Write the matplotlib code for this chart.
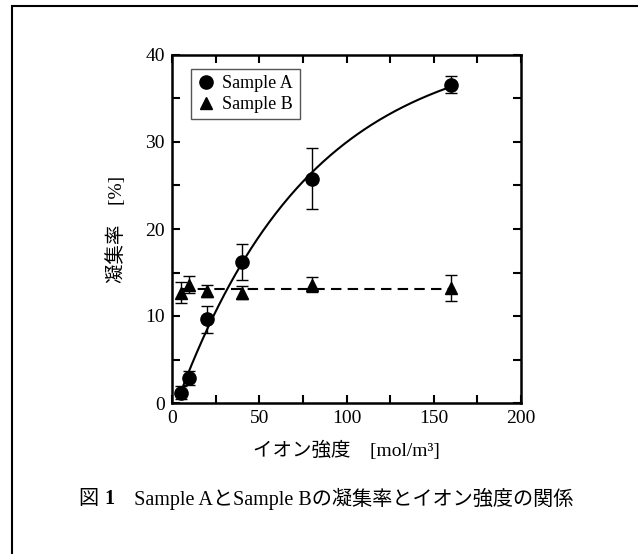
import numpy as np
import matplotlib
matplotlib.use('Agg')
import matplotlib.pyplot as plt
from matplotlib.lines import Line2D
from matplotlib.patches import Rectangle
from matplotlib.ticker import MultipleLocator

plt.rcParams['font.family'] = ['Liberation Serif', 'Noto Sans CJK JP']

# data
ion = np.array([5, 10, 20, 40, 80, 160])
rate_a = np.array([1.2, 2.9, 9.6, 16.2, 25.8, 36.6])
err_a = np.array([0.7, 0.8, 1.5, 2.1, 3.5, 1.0])
rate_b = np.array([12.7, 13.6, 12.9, 12.7, 13.6, 13.2])
err_b = np.array([1.2, 1.0, 0.7, 0.75, 0.85, 1.5])

# saturation fit y = a - c*exp(-k x) for Sample A (grid over k, linear lstsq for a, c)
best = None
for k in np.linspace(0.001, 0.05, 500):
    M = np.column_stack([np.ones_like(ion, dtype=float), -np.exp(-k * ion)])
    coef, res, _, _ = np.linalg.lstsq(M, rate_a, rcond=None)
    r = np.sum((M @ coef - rate_a) ** 2)
    if best is None or r < best[0]:
        best = (r, k, coef)
_, k_fit, (a_fit, c_fit) = best
xf = np.linspace(ion[0], ion[-1], 200)
yf = a_fit - c_fit * np.exp(-k_fit * xf)

fig = plt.figure(figsize=(6.38, 5.54), dpi=100)
ax = fig.add_axes([172/638, 1-403/554, 349/638, 348/554])

ax.plot(xf, yf, color='black', lw=1.5)
ax.plot([ion[0], ion[-1]], [rate_b.mean(), rate_b.mean()], color='black', lw=1.5, ls=(0, (5, 3)))

ax.errorbar(ion, rate_a, yerr=err_a, fmt='none', ecolor='black', elinewidth=1, capsize=4.5, capthick=1)
ax.errorbar(ion, rate_b, yerr=err_b, fmt='none', ecolor='black', elinewidth=1, capsize=4.5, capthick=1)
ax.plot(ion, rate_a, 'o', color='black', ms=9.5)
ax.plot(ion, rate_b, '^', color='black', ms=9)

ax.set_xlim(0, 200)
ax.set_ylim(0, 40)
ax.xaxis.set_major_locator(MultipleLocator(50))
ax.xaxis.set_minor_locator(MultipleLocator(25))
ax.yaxis.set_major_locator(MultipleLocator(10))
ax.yaxis.set_minor_locator(MultipleLocator(5))
ax.tick_params(which='both', direction='in', top=True, right=True, length=6, width=1.5, labelsize=14, pad=5)
for s in ax.spines.values():
    s.set_linewidth(1.8)

ax.set_xlabel('イオン強度　[mol/m³]', fontsize=14, labelpad=10)
ax.set_ylabel('凝集率　[%]', fontsize=14, labelpad=14)

handles = [Line2D([], [], ls='none', marker='o', color='black', ms=9.5),
           Line2D([], [], ls='none', marker='^', color='black', ms=9)]
leg = ax.legend(handles, ['Sample A', 'Sample B'], loc='upper left', bbox_to_anchor=(0.054, 0.96),
                borderaxespad=0, fancybox=False, framealpha=1, edgecolor='#555555',
                fontsize=13, handlelength=1.0, handletextpad=0.4, borderpad=0.35, labelspacing=0.2)
leg.get_frame().set_linewidth(1.0)

# caption built from pieces so that the figure number is bold
fig.canvas.draw()
r = fig.canvas.get_renderer()
pieces = [('図 ', 'normal'), ('1', 'bold'), ('　Sample AとSample Bの凝集率とイオン強度の関係', 'normal')]
widths = []
for txt, w in pieces:
    t = fig.text(0, 0, txt, fontsize=14.5, fontweight=w)
    widths.append(t.get_window_extent(r).width)
    t.remove()
x0 = 326 - sum(widths) / 2
ycap = 1 - 499/554
for (txt, w), wd in zip(pieces, widths):
    fig.text(x0/638, ycap, txt, fontsize=14.5, fontweight=w, va='center')
    x0 += wd

fig.patches.append(Rectangle((12/638, -0.1), 1.2, (554-6)/554 + 0.1, transform=fig.transFigure,
                             fill=False, lw=1.5, ec='black'))

fig.savefig('out.png', dpi=100)
